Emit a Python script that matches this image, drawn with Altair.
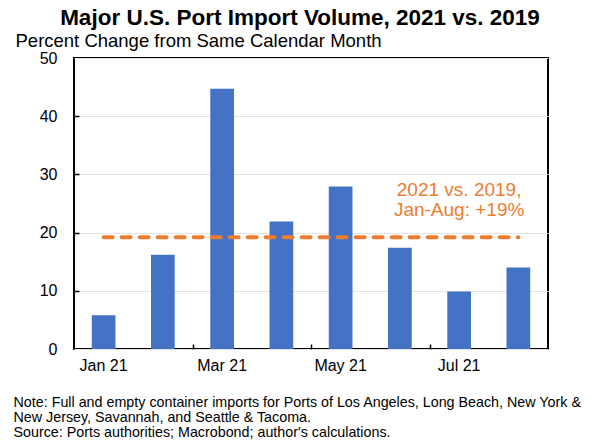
import altair as alt
import pandas as pd

months = ["Jan 21", "Feb 21", "Mar 21", "Apr 21", "May 21", "Jun 21", "Jul 21", "Aug 21"]
pct_change = [5.8, 16.2, 44.7, 21.9, 27.9, 17.4, 9.9, 14.0]
avg_label = "2021 vs. 2019,\nJan-Aug: +19%"
avg_value = [19.2]
label_months = ["Jan 21", "Mar 21", "May 21", "Jul 21"]
tick_months = ["Mar 21", "May 21", "Jul 21"]
y_ticks = [0, 10, 20, 30, 40, 50]
inner_ticks = [10, 20, 30, 40]
note_lines = [
    "Note: Full and empty container imports for Ports of Los Angeles, Long Beach, New York &",
    "New Jersey, Savannah, and Seattle & Tacoma.",
    "Source: Ports authorities; Macrobond; author's calculations.",
]

FONT = "Liberation Sans"
W, H = 474, 291
BLUE = "#4472C4"
ORANGE = "#ED7D31"

bars_df = pd.DataFrame({"month": months, "value": pct_change})
rule_df = pd.DataFrame({"start": [months[0]], "end": [months[-1]], "value": avg_value})
text_df = pd.DataFrame({"month": ["Jul 21"], "value": [27.4], "label": [avg_label]})

xscale = alt.Scale(domain=months, paddingInner=0.6, paddingOuter=0.3)
yscale = alt.Scale(domain=[0, 50])

bars = alt.Chart(bars_df).mark_bar(color=BLUE).encode(
    x=alt.X("month:N", scale=xscale, sort=months,
            axis=alt.Axis(values=label_months, ticks=False, domain=False, labelAngle=0,
                          labelFontSize=16, labelFont=FONT, labelColor="black", labelPadding=8,
                          title=note_lines, titleFont=FONT, titleFontSize=14.3, titleFontWeight="normal",
                          titleAlign="left", titleAnchor="start", titleBaseline="top",
                          titleX=-61, titleY=46, titleLineHeight=15, titleColor="black")),
    y=alt.Y("value:Q", scale=yscale,
            axis=alt.Axis(values=y_ticks, ticks=False, domain=False, grid=True,
                          gridColor="#e3e3e3", gridWidth=1,
                          labelFontSize=16, labelFont=FONT, labelColor="black", labelPadding=17,
                          title="Percent Change from Same Calendar Month", titleAngle=0,
                          titleAlign="left", titleBaseline="alphabetic", titleX=-59, titleY=-12,
                          titleFont=FONT, titleFontSize=18.5, titleFontWeight="normal", titleColor="black")),
)

rule = alt.Chart(rule_df).mark_rule(color=ORANGE, strokeWidth=4, strokeDash=[9, 9], strokeCap="round").encode(
    x=alt.X("start:N", scale=xscale, sort=months,
            axis=alt.Axis(orient="top", offset=-H, values=tick_months, tickOffset=-29.6,
                          tickSize=5, tickWidth=1.5, tickColor="black", labels=False, domain=False,
                          grid=False, title=None)),
    x2="end:N",
    y=alt.Y("value:Q", scale=yscale,
            axis=alt.Axis(orient="right", offset=-W, values=inner_ticks, tickSize=5, tickWidth=1.5,
                          tickColor="black", labels=False, domain=False, grid=False, title=None)),
)

text = alt.Chart(text_df).mark_text(color=ORANGE, font=FONT, fontSize=19, lineHeight=20,
                                    align="center", baseline="middle", lineBreak="\n").encode(
    x=alt.X("month:N", scale=xscale, sort=months, axis=None),
    y=alt.Y("value:Q", scale=yscale, axis=None),
    text="label:N",
)

chart = alt.layer(bars, rule, text).resolve_axis(x="independent", y="independent").properties(
    width=W, height=H,
    background="white",
    autosize=alt.AutoSizeParams(type="none"),
    padding={"left": 66, "top": 50, "right": 44, "bottom": 90},
    title=alt.TitleParams("Major U.S. Port Import Volume, 2021 vs. 2019", font=FONT, fontSize=22.5,
                          fontWeight="bold", color="black", anchor="middle", frame="group",
                          dx=-11, offset=2),
).configure_view(stroke="black", strokeWidth=2)

chart.save("out.html", embed_options={"renderer": "svg", "actions": False})
